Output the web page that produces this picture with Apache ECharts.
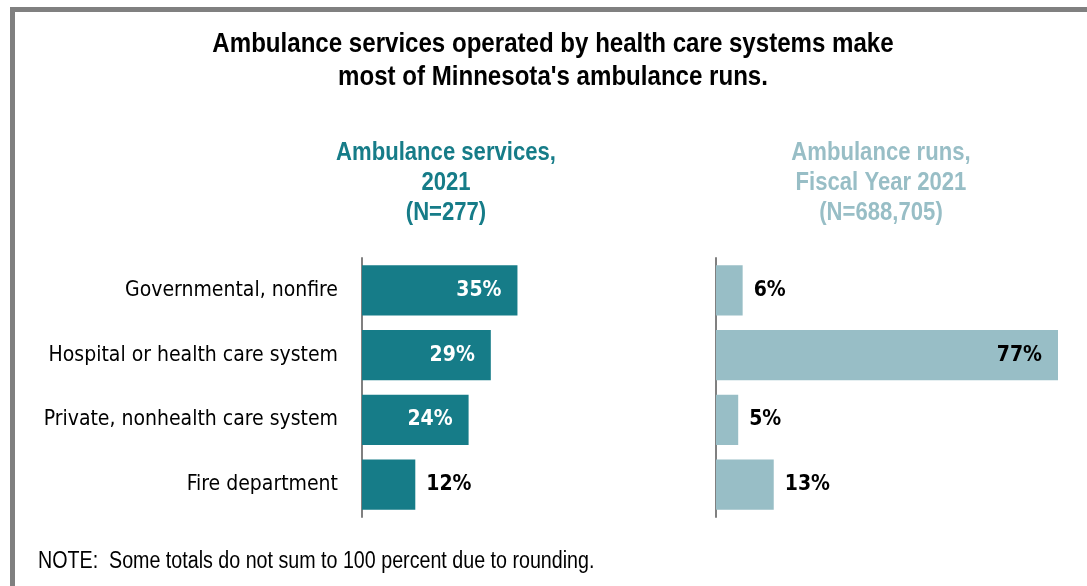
<!DOCTYPE html>
<html><head><meta charset="utf-8">
<script src="https://cdn.jsdelivr.net/npm/echarts@6/dist/echarts.min.js"></script>
<style>html,body{margin:0;padding:0;background:#fff}#c{width:1087px;height:586px}</style>
</head><body><div id="c"></div>
<script>
const categories = ["Governmental, nonfire", "Hospital or health care system", "Private, nonhealth care system", "Fire department"];
const servicesPct = [35, 29, 24, 12];
const runsPct = [6, 77, 5, 13];
const titleText = "Ambulance services operated by health care systems make\nmost of Minnesota's ambulance runs.";
const leftHeader = "Ambulance services,\n2021\n(N=277)";
const rightHeader = "Ambulance runs,\nFiscal Year 2021\n(N=688,705)";
const noteText = "NOTE:  Some totals do not sum to 100 percent due to rounding.";

const COND = "'DejaVu Sans Condensed', sans-serif";
const ARIAL = "'Liberation Sans', Arial, sans-serif";
const dark = '#167C88', light = '#98BEC6';

function mk(vals, threshold, insideColor) {
  return vals.map(v => ({
    value: v,
    label: v >= threshold
      ? {position: 'insideRight', distance: 16, color: insideColor}
      : {position: 'right', distance: 11, color: '#000'}
  }));
}
function txt(text, x, y, size, weight, color, lh, sx, align) {
  return {type: 'text', x: x, y: y, originX: 0, originY: 0, scaleX: sx, silent: true,
    style: {text: text, fill: color, font: weight + ' ' + size + 'px ' + ARIAL,
      textAlign: align || 'center', textVerticalAlign: 'top', lineHeight: lh}};
}

const chart = echarts.init(document.getElementById('c'));
const xMax = 77;
chart.setOption({
  animation: false,
  graphic: [
    {type: 'rect', shape: {x: 12.5, y: 9.5, width: 1200, height: 800},
     style: {fill: 'none', stroke: '#808080', lineWidth: 5}, silent: true},
    txt(titleText, 553, 28, 28, 'bold', '#000', 33, 0.86),
    txt(leftHeader, 446, 138, 26, 'bold', dark, 30, 0.85),
    txt(rightHeader, 881, 138, 26, 'bold', light, 30, 0.85),
    txt(noteText, 38, 550, 23, 'normal', '#000', 24, 0.855, 'left')
  ],
  grid: [
    {left: 362, top: 258, width: 342, height: 259},
    {left: 716, top: 258, width: 342, height: 259}
  ],
  xAxis: [
    {gridIndex: 0, type: 'value', min: 0, max: xMax, show: false},
    {gridIndex: 1, type: 'value', min: 0, max: xMax, show: false}
  ],
  yAxis: [
    {gridIndex: 0, type: 'category', data: categories, inverse: true,
     axisLine: {show: true, lineStyle: {color: '#808080', width: 2}},
     axisTick: {show: false},
     axisLabel: {margin: 24, fontFamily: COND, fontSize: 21, color: '#000'}},
    {gridIndex: 1, type: 'category', data: categories, inverse: true,
     axisLine: {show: true, lineStyle: {color: '#808080', width: 2}},
     axisTick: {show: false}, axisLabel: {show: false}}
  ],
  series: [
    {type: 'bar', xAxisIndex: 0, yAxisIndex: 0, data: mk(servicesPct, 20, '#fff'),
     barCategoryGap: '22.7%', itemStyle: {color: dark},
     label: {show: true, formatter: '{c}%', fontFamily: COND, fontSize: 21, fontWeight: 'bold'}},
    {type: 'bar', xAxisIndex: 1, yAxisIndex: 1, data: mk(runsPct, 50, '#000'),
     barCategoryGap: '22.7%', itemStyle: {color: light},
     label: {show: true, formatter: '{c}%', fontFamily: COND, fontSize: 21, fontWeight: 'bold'}}
  ]
});
</script></body></html>
